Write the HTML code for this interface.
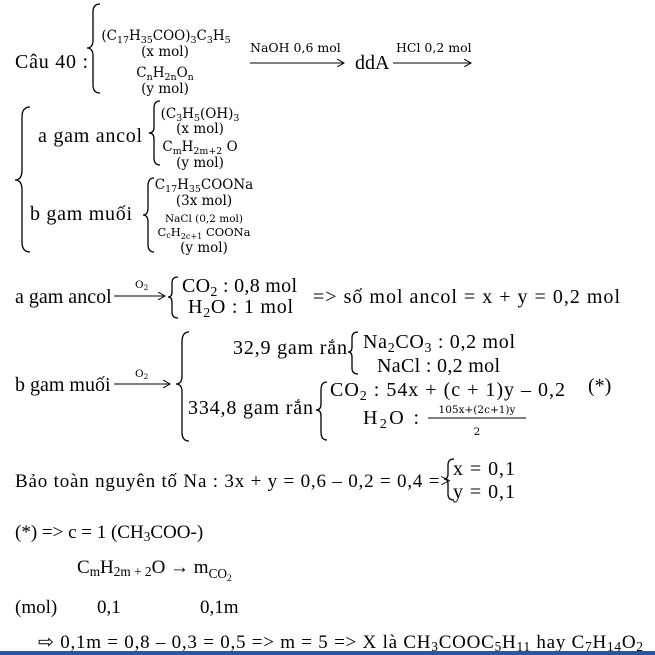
<!DOCTYPE html>
<html><head><meta charset="utf-8"><style>
html,body{margin:0;padding:0;background:#fff;}
svg{display:block}
.t{font-family:"Liberation Serif",serif;font-size:20px;fill:#000}
.m{font-family:"DejaVu Serif","Liberation Serif",serif;font-size:13.5px;fill:#000}
.s{font-size:70%}
</style></head><body>
<svg width="655" height="655" viewBox="0 0 655 655" xmlns="http://www.w3.org/2000/svg">
<defs><marker id="ah" markerWidth="8" markerHeight="8" refX="7" refY="4" orient="auto"><path d="M0,0 L7,4 L0,8" fill="none" stroke="#000" stroke-width="1"/></marker></defs>
<g fill="none" stroke="#000" stroke-width="1.3">
<path d="M100,4 Q93,4 93,12 L93,40 Q93,48 87,48 Q93,48 93,56 L93,85 Q93,93 100,93"/>
<path d="M30,107 Q22,107 22,117 L22,170 Q22,180 15,180 Q22,180 22,190 L22,242 Q22,252 30,252"/>
<path d="M160,101 Q154,101 154,108 L154,127 Q154,133 149,133 Q154,133 154,139 L154,158 Q154,165 160,165"/>
<path d="M154,178 Q148,178 148,186 L148,208 Q148,215 143,215 Q148,215 148,222 L148,244 Q148,252 154,252"/>
<path d="M178,277 Q172,277 172,283 L172,292 Q172,297 168,297 Q172,297 172,302 L172,312 Q172,318 178,318"/>
<path d="M189,332 Q182,332 182,342 L182,376 Q182,384 176,384 Q182,384 182,392 L182,432 Q182,441 189,441"/>
<path d="M358,332 Q352,332 352,338 L352,347 Q352,352 348,352 Q352,352 352,357 L352,368 Q352,374 358,374"/>
<path d="M327,382 Q321,382 321,390 L321,404 Q321,410 316,410 Q321,410 321,416 L321,432 Q321,440 327,440"/>
<path d="M454,459 Q448,459 448,465 L448,474 Q448,479 444,479 Q448,479 448,484 L448,494 Q448,500 454,500"/>
<line x1="250" y1="63" x2="344" y2="63" marker-end="url(#ah)" stroke-width="1"/>
<line x1="393" y1="63" x2="471" y2="63" marker-end="url(#ah)" stroke-width="1"/>
<line x1="114" y1="296" x2="165" y2="296" marker-end="url(#ah)" stroke-width="1"/>
<line x1="114" y1="384" x2="170" y2="384" marker-end="url(#ah)" stroke-width="1"/>
<line x1="428" y1="418" x2="526" y2="418" stroke-width="1"/>
</g>
<text class="t" x="15" y="68" textLength="73" lengthAdjust="spacing">Câu 40 :</text>
<g class="m" text-anchor="middle">
<text x="166" y="40">(C<tspan class="s" dy="3">17</tspan><tspan dy="-3">H</tspan><tspan class="s" dy="3">35</tspan><tspan dy="-3">COO)</tspan><tspan class="s" dy="3">3</tspan><tspan dy="-3">C</tspan><tspan class="s" dy="3">3</tspan><tspan dy="-3">H</tspan><tspan class="s" dy="3">5</tspan></text>
<text x="165" y="56">(x mol)</text>
<text x="165" y="77">C<tspan class="s" dy="3">n</tspan><tspan dy="-3">H</tspan><tspan class="s" dy="3">2n</tspan><tspan dy="-3">O</tspan><tspan class="s" dy="3">n</tspan></text>
<text x="165" y="93">(y mol)</text>
<text x="200" y="118">(C<tspan class="s" dy="3">3</tspan><tspan dy="-3">H</tspan><tspan class="s" dy="3">5</tspan><tspan dy="-3">(OH)</tspan><tspan class="s" dy="3">3</tspan></text>
<text x="200" y="133">(x mol)</text>
<text x="200" y="151">C<tspan class="s" dy="3">m</tspan><tspan dy="-3">H</tspan><tspan class="s" dy="3">2m+2</tspan><tspan dy="-3"> O</tspan></text>
<text x="200" y="167">(y mol)</text>
<text x="204" y="189">C<tspan class="s" dy="3">17</tspan><tspan dy="-3">H</tspan><tspan class="s" dy="3">35</tspan><tspan dy="-3">COONa</tspan></text>
<text x="204" y="205">(3x mol)</text>
<text x="204" y="222" style="font-size:10.5px">NaCl (0,2 mol)</text>
<text x="204" y="236" style="font-size:11.5px">C<tspan class="s" dy="2">c</tspan><tspan dy="-2">H</tspan><tspan class="s" dy="3">2c+1</tspan><tspan dy="-3"> COONa</tspan></text>
<text x="204" y="252">(y mol)</text>
</g>
<text class="m" x="250" y="52" style="font-size:12.5px">NaOH 0,6 mol</text>
<text class="t" x="355" y="69">ddA</text>
<text class="m" x="396" y="52" style="font-size:12.5px">HCl 0,2 mol</text>
<text class="t" x="38" y="142" textLength="104" lengthAdjust="spacing">a gam ancol</text>
<text class="t" x="30" y="220" textLength="102" lengthAdjust="spacing">b gam muối</text>
<text class="t" x="15" y="303">a gam ancol</text>
<text class="m" x="135" y="288" style="font-size:10.5px">O<tspan class="s" dy="2">2</tspan></text>
<text class="t" x="182" y="292" textLength="115" lengthAdjust="spacing">CO<tspan class="s" dy="4">2</tspan><tspan dy="-4"> : 0,8 mol</tspan></text>
<text class="t" x="188" y="313" textLength="105" lengthAdjust="spacing">H<tspan class="s" dy="4">2</tspan><tspan dy="-4">O : 1 mol</tspan></text>
<text class="t" x="313" y="303" textLength="307" lengthAdjust="spacing">=&gt; số mol ancol = x + y = 0,2 mol</text>
<text class="t" x="15" y="391">b gam muối</text>
<text class="m" x="135" y="377" style="font-size:10.5px">O<tspan class="s" dy="2">2</tspan></text>
<text class="t" x="233" y="354" textLength="114" lengthAdjust="spacing">32,9 gam rắn</text>
<text class="t" x="363" y="348" textLength="152" lengthAdjust="spacing">Na<tspan class="s" dy="4">2</tspan><tspan dy="-4">CO</tspan><tspan class="s" dy="4">3</tspan><tspan dy="-4"> : 0,2 mol</tspan></text>
<text class="t" x="377" y="372" textLength="123" lengthAdjust="spacing">NaCl : 0,2 mol</text>
<text class="t" x="188" y="414" textLength="125" lengthAdjust="spacing">334,8 gam rắn</text>
<text class="t" x="330" y="396" textLength="235" lengthAdjust="spacing">CO<tspan class="s" dy="4">2</tspan><tspan dy="-4"> : 54x + (c + 1)y – 0,2</tspan></text>
<text class="t" x="588" y="392">(*)</text>
<text class="t" x="363" y="424" textLength="56" lengthAdjust="spacing">H<tspan class="s" dy="4">2</tspan><tspan dy="-4">O :</tspan></text>
<text class="m" x="477" y="413" text-anchor="middle" style="font-size:10.5px">105x+(2c+1)y</text>
<text class="m" x="477" y="435" text-anchor="middle" style="font-size:10.5px">2</text>
<text class="t" x="15" y="487" style="font-size:19px" textLength="436" lengthAdjust="spacing">Bảo toàn nguyên tố Na : 3x + y = 0,6 – 0,2 = 0,4 =&gt;</text>
<text class="t" x="453" y="475" textLength="62" lengthAdjust="spacing">x = 0,1</text>
<text class="t" x="453" y="498" textLength="62" lengthAdjust="spacing">y = 0,1</text>
<text class="t" x="15" y="538" style="font-size:19px">(*) =&gt; c = 1 (CH<tspan class="s" dy="3">3</tspan><tspan dy="-3">COO-)</tspan></text>
<text class="t" x="77" y="573" style="font-size:19px">C<tspan class="s" dy="3">m</tspan><tspan dy="-3">H</tspan><tspan class="s" dy="3">2m + 2</tspan><tspan dy="-3">O → m</tspan><tspan class="s" dy="5">CO</tspan><tspan style="font-size:50%" dy="3">2</tspan></text>
<text class="t" x="15" y="613" style="font-size:19px">(mol)</text>
<text class="t" x="97" y="613" style="font-size:19px">0,1</text>
<text class="t" x="200" y="613" style="font-size:19px">0,1m</text>
<text class="t" x="38" y="648" style="font-size:19px" textLength="605" lengthAdjust="spacing">⇨ 0,1m = 0,8 – 0,3 = 0,5 =&gt; m = 5 =&gt; X là CH<tspan class="s" dy="3">3</tspan><tspan dy="-3">COOC</tspan><tspan class="s" dy="3">5</tspan><tspan dy="-3">H</tspan><tspan class="s" dy="3">11</tspan><tspan dy="-3"> hay C</tspan><tspan class="s" dy="3">7</tspan><tspan dy="-3">H</tspan><tspan class="s" dy="3">14</tspan><tspan dy="-3">O</tspan><tspan class="s" dy="3">2</tspan></text>
<rect x="0" y="651" width="655" height="4" fill="#2f5597"/>
</svg>
</body></html>
